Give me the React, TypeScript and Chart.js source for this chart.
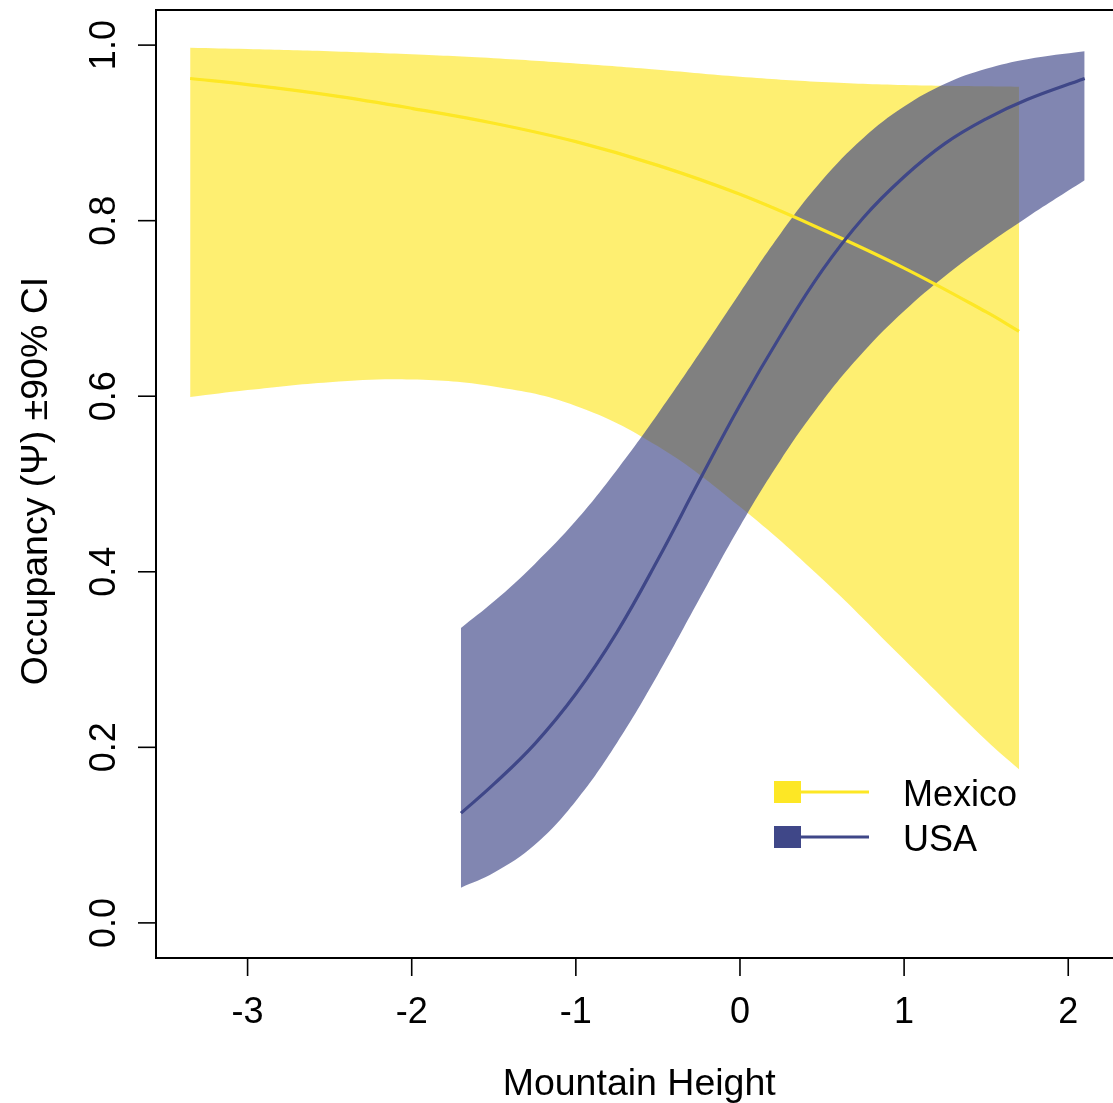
import React, { useEffect, useRef } from "react";
import { Chart, registerables } from "chart.js";

Chart.register(...registerables);

// ---- Data ----
const mexicoX = [-3.35, -3, -2.5, -2, -1.5, -1, -0.5, 0, 0.5, 1, 1.5, 1.7];
const mexicoMean = [0.962, 0.955, 0.943, 0.928, 0.911, 0.89, 0.863, 0.83, 0.79, 0.746, 0.696, 0.674];
const mexicoUpper = [0.997, 0.9955, 0.993, 0.9895, 0.985, 0.979, 0.972, 0.964, 0.958, 0.9545, 0.953, 0.9525];
const mexicoLower = [0.599, 0.607, 0.616, 0.619, 0.611, 0.589, 0.543, 0.474, 0.392, 0.3, 0.208, 0.175];

const usaX = [-1.7, -1.5, -1.25, -1, -0.75, -0.5, -0.25, 0, 0.25, 0.5, 0.75, 1, 1.25, 1.5, 1.75, 2.1];
const usaMean = [0.125, 0.158, 0.204, 0.261, 0.331, 0.414, 0.503, 0.59, 0.67, 0.743, 0.803, 0.85, 0.888, 0.916, 0.938, 0.962];
const usaUpper = [0.336, 0.366, 0.409, 0.458, 0.516, 0.58, 0.648, 0.718, 0.786, 0.846, 0.894, 0.93, 0.956, 0.973, 0.984, 0.993];
const usaLower = [0.04, 0.057, 0.089, 0.139, 0.205, 0.283, 0.368, 0.452, 0.528, 0.594, 0.65, 0.697, 0.737, 0.772, 0.804, 0.846];

const seriesNames = ["Mexico", "USA"];
const xTicks = [-3, -2, -1, 0, 1, 2];
const xTickLabels = ["-3", "-2", "-1", "0", "1", "2"];
const yTicks = [0, 0.2, 0.4, 0.6, 0.8, 1.0];
const yTickLabels = ["0.0", "0.2", "0.4", "0.6", "0.8", "1.0"];
const xTitle = "Mountain Height";
const yTitle = "Occupancy (\u03A8) \u00B190% CI";

// ---- Styles ----
const YELLOW = "#FDE725";
const YELLOW_FILL = "rgba(253,231,37,0.65)";
const BLUE = "#3F4788";
const BLUE_FILL = "rgba(63,71,136,0.66)";
const FAMILY = '"Liberation Sans", Arial, sans-serif';
const FONT = "36px " + FAMILY;
const TITLE_FONT = "37.5px " + FAMILY;
const TENSION = 0.4;

const pts = (xs: number[], ys: number[]) => xs.map((x, i) => ({ x, y: ys[i] }));

const rStylePlugin = {
  id: "rStyle",
  afterDraw(chart: any) {
    const ctx = chart.ctx as CanvasRenderingContext2D;
    const { left, right, top, bottom } = chart.chartArea;
    const xs = chart.scales.x;
    const ys = chart.scales.y;
    ctx.save();
    ctx.strokeStyle = "#000";
    ctx.fillStyle = "#000";
    ctx.lineWidth = 2;
    ctx.strokeRect(left, top, right - left, bottom - top);

    ctx.font = FONT;
    ctx.lineWidth = 1.6;
    // x axis
    ctx.textAlign = "center";
    ctx.textBaseline = "alphabetic";
    xTicks.forEach((v, i) => {
      const px = xs.getPixelForValue(v);
      ctx.beginPath();
      ctx.moveTo(px, bottom);
      ctx.lineTo(px, bottom + 18);
      ctx.stroke();
      ctx.fillText(xTickLabels[i], px, bottom + 65);
    });

    // y axis
    yTicks.forEach((v, i) => {
      const py = ys.getPixelForValue(v);
      ctx.beginPath();
      ctx.moveTo(left, py);
      ctx.lineTo(left - 18, py);
      ctx.stroke();
      ctx.save();
      ctx.translate(left - 41, py);
      ctx.rotate(-Math.PI / 2);
      ctx.fillText(yTickLabels[i], 0, 0);
      ctx.restore();
    });

    // axis titles
    ctx.font = TITLE_FONT;
    ctx.fillText(xTitle, (left + right) / 2, bottom + 137);
    ctx.save();
    ctx.translate(47, (top + bottom) / 2 - 3);
    ctx.rotate(-Math.PI / 2);
    ctx.fillText(yTitle, 0, 0);
    ctx.restore();

    // legend
    ctx.font = FONT;
    const colors = [YELLOW, BLUE];
    const rowsY = [792, 837];
    ctx.textAlign = "left";
    seriesNames.forEach((name, i) => {
      const cy = rowsY[i];
      ctx.fillStyle = colors[i];
      ctx.fillRect(774, cy - 11, 27, 22);
      ctx.strokeStyle = colors[i];
      ctx.lineWidth = 3;
      ctx.beginPath();
      ctx.moveTo(800, cy);
      ctx.lineTo(869, cy);
      ctx.stroke();
      ctx.fillStyle = "#000";
      ctx.fillText(name, 903, cy + 14);
    });
    ctx.restore();
  },
};

export default function App() {
  const ref = useRef<HTMLCanvasElement | null>(null);
  useEffect(() => {
    if (!ref.current) return;
    const band = {
      pointRadius: 0,
      borderWidth: 0,
      borderColor: "rgba(0,0,0,0)",
      tension: TENSION,
    };
    const chart = new Chart(ref.current, {
      type: "line",
      data: {
        datasets: [
          { ...band, label: "Mexico upper", data: pts(mexicoX, mexicoUpper), fill: "+1", backgroundColor: YELLOW_FILL, order: 6 },
          { ...band, label: "Mexico lower", data: pts(mexicoX, mexicoLower), fill: false, order: 5 },
          { ...band, label: "USA upper", data: pts(usaX, usaUpper), fill: "+1", backgroundColor: BLUE_FILL, order: 4 },
          { ...band, label: "USA lower", data: pts(usaX, usaLower), fill: false, order: 3 },
          {
            label: seriesNames[0],
            data: pts(mexicoX, mexicoMean),
            borderColor: YELLOW,
            borderWidth: 3.2,
            pointRadius: 0,
            fill: false,
            tension: TENSION,
            order: 2,
          },
          {
            label: seriesNames[1],
            data: pts(usaX, usaMean),
            borderColor: BLUE,
            borderWidth: 3.2,
            pointRadius: 0,
            fill: false,
            tension: TENSION,
            order: 1,
          },
        ],
      },
      options: {
        responsive: false,
        maintainAspectRatio: false,
        animation: false,
        events: [],
        layout: { padding: { left: 156, top: 10, right: 7.6, bottom: 145 } },
        scales: {
          x: { type: "linear", min: -3.558, max: 2.33, display: false },
          y: { type: "linear", min: -0.04, max: 1.04, display: false },
        },
        plugins: {
          legend: { display: false },
          tooltip: { enabled: false },
        },
      },
      plugins: [rStylePlugin],
    });
    return () => chart.destroy();
  }, []);

  return (
    <div
      style={{
        position: "absolute",
        left: 0,
        top: 0,
        width: 1113,
        height: 1103,
        overflow: "hidden",
        background: "#fff",
      }}
    >
      <canvas ref={ref} width={1130} height={1103} style={{ display: "block" }} />
    </div>
  );
}
